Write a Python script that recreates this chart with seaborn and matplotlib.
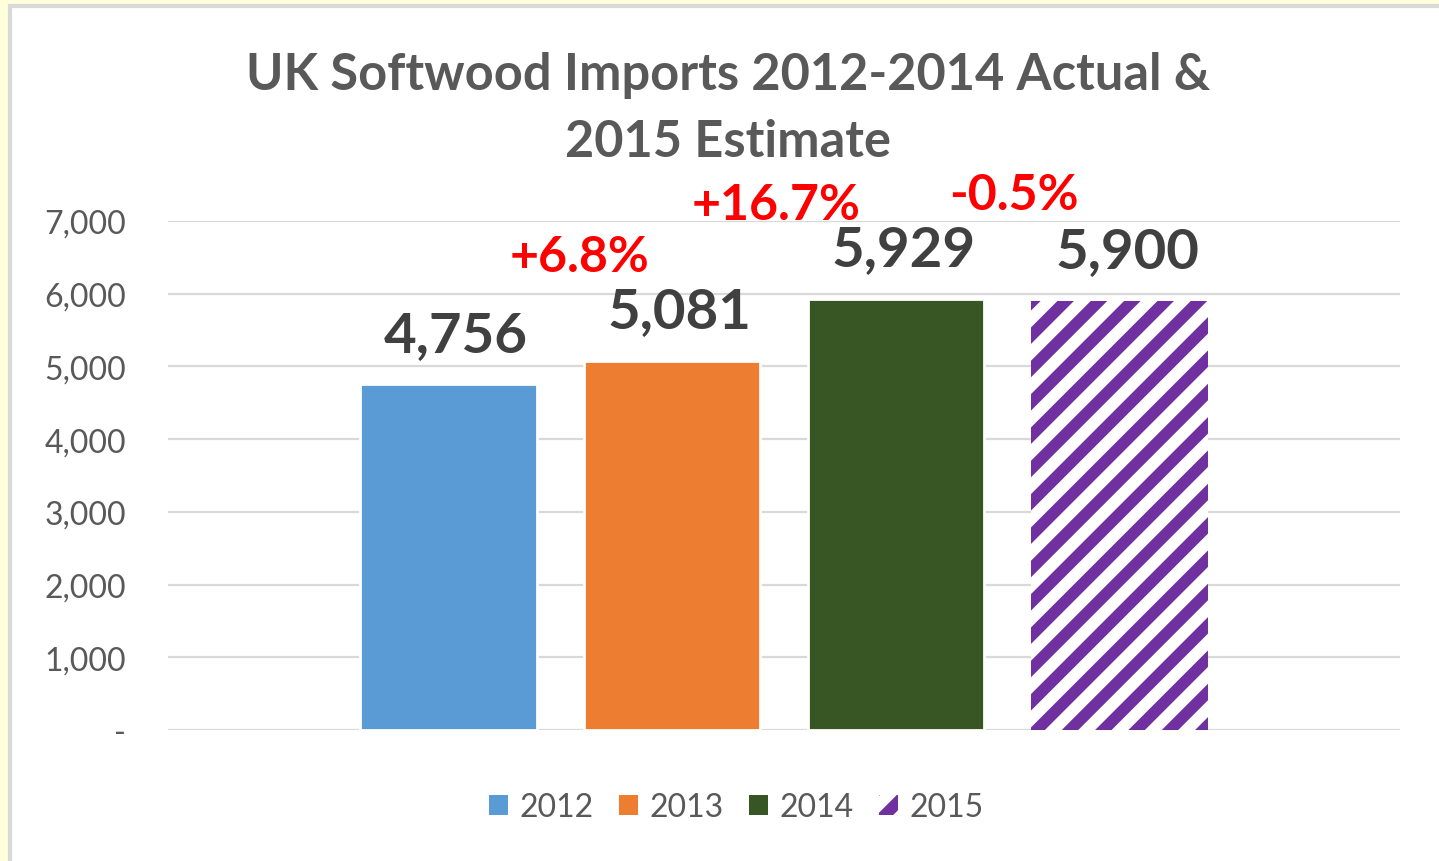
import matplotlib.pyplot as plt
from matplotlib.patches import Rectangle
import pandas as pd
import seaborn as sns

# 数据
years = ['2012', '2013', '2014', '2015']
imports = [4756, 5081, 5929, 5900]
bar_colours = ['#5B9BD5', '#ED7D31', '#375623', '#FFFFFF']
y_ticks = [0, 1000, 2000, 3000, 4000, 5000, 6000, 7000]
y_tick_labels = ['-', '1,000', '2,000', '3,000', '4,000', '5,000', '6,000', '7,000']

# 增长率标注的位置 (x, y)
change_pos = [(0.585, 6313), (1.464, 7028), (2.529, 7165)]

sns.set_theme(style='white')
plt.rcParams['font.family'] = ['Lato', 'DejaVu Sans']
plt.rcParams['hatch.linewidth'] = 4.2
plt.rcParams['hatch.color'] = '#7030A0'

df = pd.DataFrame({'year': years, 'imports': imports})

W, H = 1439, 862
fig = plt.figure(figsize=(W / 200, H / 200), dpi=200, facecolor='#FFFFDC')
fig.patches.append(Rectangle((10 / W, -0.05), 1.1, (H - 7) / H + 0.05,
                             transform=fig.transFigure, facecolor='white',
                             edgecolor='#D9D9D9', linewidth=1.5, zorder=-5))

ax = fig.add_axes([168 / W, (H - 731) / H, 1232 / W, 509 / H])
ax.set_facecolor('none')
sns.barplot(data=df, x='year', y='imports', hue='year', palette=bar_colours,
            width=0.79, saturation=1, legend=False, ax=ax)

# 2015 估计值用斜线填充
hatched = ax.patches[3]
hatched.set_facecolor('white')
hatched.set_edgecolor('#7030A0')
hatched.set_hatch('//')
hatched.set_linewidth(0)

ax.set_ylim(0, 7000)
ax.set_xlim(-1.252, 4.252)
ax.set_yticks(y_ticks, y_tick_labels)
ax.set_xticks([])
ax.set_xlabel('')
ax.set_ylabel('')
ax.tick_params(axis='y', length=0, pad=15, labelsize=11.5, labelcolor='#595959')
ax.yaxis.grid(True, color='#D9D9D9', linewidth=0.8)
ax.set_axisbelow(True)
for s in ax.spines.values():
    s.set_visible(False)

# 数值标签
for i, v in enumerate(imports):
    ax.text(i + 0.034, v + 461, f'{v:,}', ha='center', va='baseline', fontsize=20.3,
            fontweight='bold', color='#404040')

# 增长率
for i, (px, py) in enumerate(change_pos):
    pct = (imports[i + 1] / imports[i] - 1) * 100
    ax.text(px, py, f'{pct:+.1f}%', ha='center', va='baseline', fontsize=18,
            fontweight='bold', color='#FF0000')

# 标题
fig.text(728 / W, 1 - 90 / H, 'UK Softwood Imports 2012-2014 Actual &',
         ha='center', va='baseline', fontsize=18.2, fontweight='bold', color='#595959')
fig.text(728 / W, 1 - 157 / H, '2015 Estimate',
         ha='center', va='baseline', fontsize=18.2, fontweight='bold', color='#595959')

handles = []
for c, y in zip(bar_colours, years):
    if y == '2015':
        handles.append(Rectangle((0, 0), 1, 1, facecolor='white', edgecolor='#7030A0',
                                 hatch='//', linewidth=0, label=y))
    else:
        handles.append(Rectangle((0, 0), 1, 1, facecolor=c, linewidth=0, label=y))
fig.legend(handles=handles, loc='center', bbox_to_anchor=(736 / W, 1 - 808 / H),
           ncol=4, frameon=False, fontsize=11.5, labelcolor='#595959',
           handlelength=0.6, handleheight=0.6, handletextpad=0.35, columnspacing=0.8)

fig.savefig('out.png', dpi=200, facecolor=fig.get_facecolor())
